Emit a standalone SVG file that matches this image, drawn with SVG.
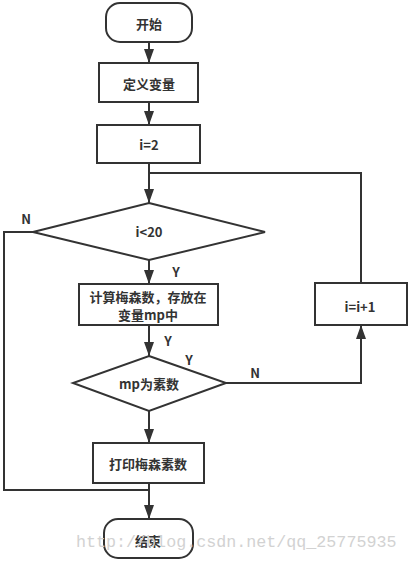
<svg xmlns="http://www.w3.org/2000/svg" width="409" height="562" viewBox="0 0 409 562">
<defs>
<style>
.shape{fill:#fff;stroke:#333;stroke-width:2}
.line{fill:none;stroke:#333;stroke-width:2}
.t{font-family:"Noto Sans CJK SC","Liberation Sans",sans-serif;font-size:13px;font-weight:bold;fill:#333;text-anchor:middle;dominant-baseline:central}
.wm{font-family:"Liberation Mono",monospace;font-size:16.7px;fill:#d2d2d2}
</style>
<marker id="arr" viewBox="0 0 14 10" refX="14" refY="5" markerWidth="14" markerHeight="10" orient="auto" markerUnits="userSpaceOnUse">
<path d="M0,0 L14,5 L0,10 z" fill="#333"/>
</marker>
</defs>
<rect width="409" height="562" fill="#fff"/>
<g id="connectors">
<path class="line" d="M149,42 V63" marker-end="url(#arr)"/>
<path class="line" d="M149,102 V125" marker-end="url(#arr)"/>
<path class="line" d="M149,163 V203" marker-end="url(#arr)"/>
<path class="line" d="M149,260 V284" marker-end="url(#arr)"/>
<path class="line" d="M149,325 V356" marker-end="url(#arr)"/>
<path class="line" d="M149,411 V443" marker-end="url(#arr)"/>
<path class="line" d="M149,483 V519" marker-end="url(#arr)"/>
<path class="line" d="M361,283 V173 H149"/>
<path class="line" d="M226,383 H361 V325" marker-end="url(#arr)"/>
<path class="line" d="M33,232 H4 V490 H149"/>
<text class="t" x="26" y="218">N</text>
<text class="t" x="176" y="271">Y</text>
<text class="t" x="168" y="340">Y</text>
<text class="t" x="189" y="359">Y</text>
<text class="t" x="255" y="372">N</text>
</g>
<g id="start">
<rect class="shape" x="106" y="3" width="86" height="39" rx="14"/>
<text class="t" x="149" y="23">开始</text>
</g>
<g id="define">
<rect class="shape" x="99" y="63" width="99" height="39"/>
<text class="t" x="149" y="83">定义变量</text>
</g>
<g id="init">
<rect class="shape" x="97" y="125" width="103" height="38"/>
<text class="t" x="149" y="144">i=2</text>
</g>
<g id="cond1">
<polygon class="shape" points="149,203 265,232 149,260 33,232"/>
<text class="t" x="149" y="231">i&lt;20</text>
</g>
<g id="calc">
<rect class="shape" x="79" y="284" width="139" height="41"/>
<text class="t" x="148" y="296">计算梅森数，存放在</text>
<text class="t" x="148" y="314">变量mp中</text>
</g>
<g id="incr">
<rect class="shape" x="315" y="283" width="92" height="42"/>
<text class="t" x="360" y="306">i=i+1</text>
</g>
<g id="cond2">
<polygon class="shape" points="149,356 226,383 149,411 73,383"/>
<text class="t" x="149" y="383">mp为素数</text>
</g>
<g id="print">
<rect class="shape" x="93" y="443" width="111" height="40"/>
<text class="t" x="148" y="463">打印梅森素数</text>
</g>
<g id="end">
<rect class="shape" x="104" y="519" width="89" height="39" rx="14"/>
<text class="t" x="148" y="540">结束</text>
</g>
<text class="wm" x="76" y="547">http://blog.csdn.net/qq_25775935</text>
</svg>
